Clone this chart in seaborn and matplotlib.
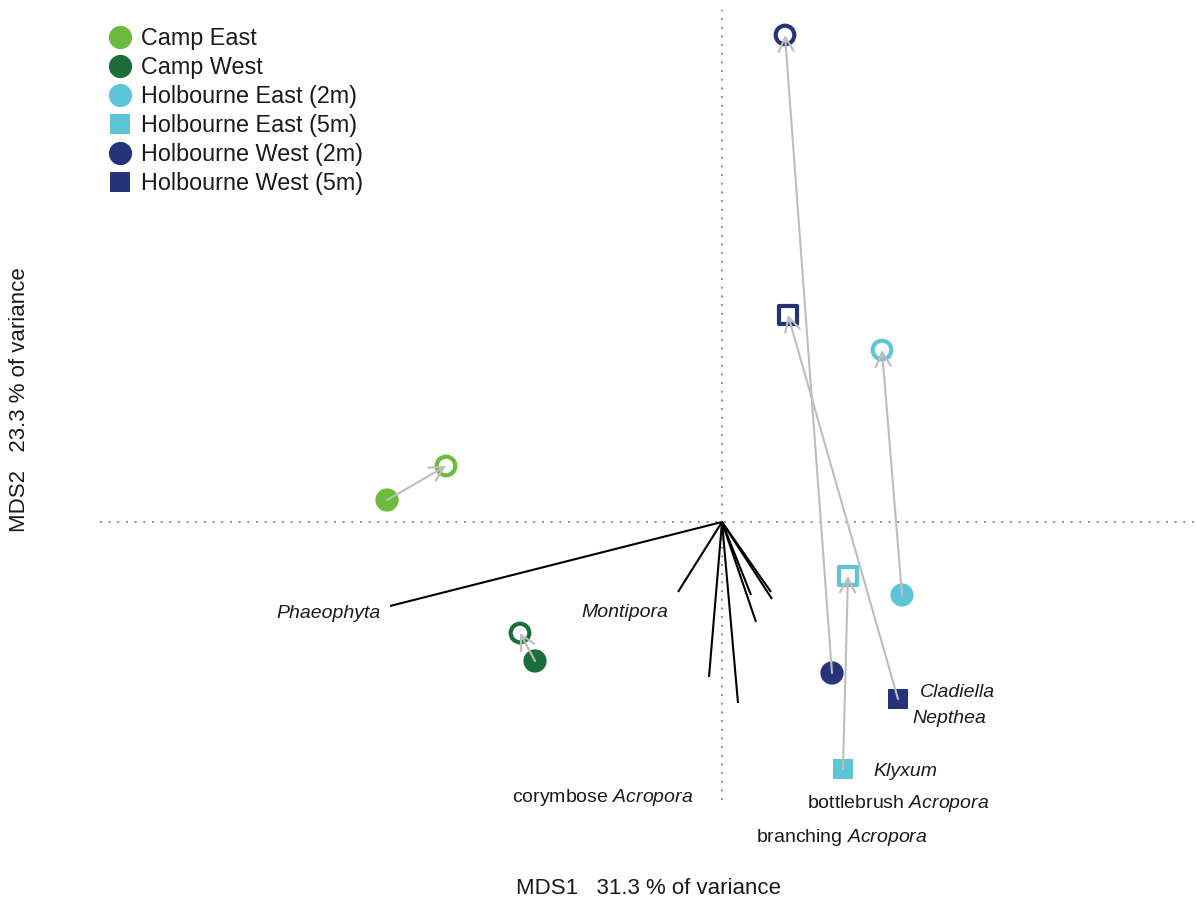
import matplotlib
matplotlib.use("Agg")
import matplotlib.pyplot as plt
import seaborn as sns
import pandas as pd

# ---------------- data ----------------
groups = ["Camp East", "Camp West", "Holbourne East (2m)", "Holbourne East (5m)",
          "Holbourne West (2m)", "Holbourne West (5m)"]
start_x = [-3.35, -1.87, 1.80, 1.21, 1.10, 1.76]
start_y = [0.22, -1.39, -0.73, -2.47, -1.51, -1.77]
end_x = [-2.76, -2.02, 1.60, 1.26, 0.63, 0.66]
end_y = [0.56, -1.11, 1.72, -0.54, 4.87, 2.07]

vec_x = [-3.32, -0.44, -0.13, 0.16, 0.29, 0.34, 0.49, 0.50]
vec_y = [-0.84, -0.70, -1.55, -1.81, -0.73, -1.00, -0.70, -0.77]

label_text = ["Phaeophyta", "Montipora", r"corymbose $\mathit{Acropora}$",
              r"bottlebrush $\mathit{Acropora}$", r"branching $\mathit{Acropora}$",
              "Cladiella", "Nepthea", "Klyxum"]
label_x = [-3.41, -0.54, -1.195, 1.76, 1.195, 1.98, 1.90, 1.51]
label_y = [-0.91, -0.90, -2.75, -2.81, -3.15, -1.70, -1.96, -2.49]
label_ha = ["right", "right", "center", "center", "center", "left", "left", "left"]
label_italic = [True, True, False, False, False, True, True, True]

palette = {"Camp East": "#6cbb3c", "Camp West": "#1b6e38",
           "Holbourne East (2m)": "#5ec4d8", "Holbourne East (5m)": "#5ec4d8",
           "Holbourne West (2m)": "#253479", "Holbourne West (5m)": "#253479"}
markers = {"Camp East": "o", "Camp West": "o", "Holbourne East (2m)": "o",
           "Holbourne East (5m)": "s", "Holbourne West (2m)": "o",
           "Holbourne West (5m)": "s"}
fill_sizes = {"Camp East": 280, "Camp West": 280, "Holbourne East (2m)": 280,
              "Holbourne East (5m)": 190, "Holbourne West (2m)": 280,
              "Holbourne West (5m)": 190}
open_sizes = {"Camp East": 180, "Camp West": 180, "Holbourne East (2m)": 180,
              "Holbourne East (5m)": 150, "Holbourne West (2m)": 180,
              "Holbourne West (5m)": 150}

df_start = pd.DataFrame({"x": start_x, "y": start_y, "group": groups})
df_end = pd.DataFrame({"x": end_x, "y": end_y, "group": groups})

# ---------------- style ----------------
sns.set_style("white")
plt.rcParams["font.family"] = ["Liberation Sans", "DejaVu Sans"]
plt.rcParams["mathtext.fontset"] = "custom"
plt.rcParams["mathtext.rm"] = "Liberation Sans"
plt.rcParams["mathtext.it"] = "Liberation Sans:italic"

W, H = 1196, 902
fig = plt.figure(figsize=(W / 100, H / 100), dpi=100)
ax = fig.add_axes([100 / W, 1 - 800 / H, 1096 / W, 790 / H])
ax.set_xlim(-6.22, 4.74)
ax.set_ylim(-2.78, 5.12)

dot = (0, (1, 3.8))
ax.axhline(0, color="#808080", lw=1.3, ls=dot, zorder=1)
ax.axvline(0, color="#808080", lw=1.3, ls=dot, zorder=1)

# species vectors
for vx, vy in zip(vec_x, vec_y):
    ax.plot([0, vx], [0, vy], color="black", lw=1.5, solid_capstyle="butt", zorder=2)

# filled (start) points
sns.scatterplot(data=df_start, x="x", y="y", hue="group", style="group", size="group",
                palette=palette, markers=markers, sizes=fill_sizes, linewidth=0,
                hue_order=groups, style_order=groups, size_order=groups,
                ax=ax, zorder=3, legend="full")
handles, labels = ax.get_legend_handles_labels()

# open (end) points
sns.scatterplot(data=df_end, x="x", y="y", hue="group", style="group", size="group",
                palette=palette, markers=markers, sizes=open_sizes, linewidth=0,
                hue_order=groups, style_order=groups, size_order=groups,
                ax=ax, zorder=3, legend=False)
coll = ax.collections[-1]
fc = coll.get_facecolors()
coll.set_edgecolors(fc)
coll.set_facecolors("none")
coll.set_linewidths(3.0)

# arrows start -> end
for sx, sy, ex, ey in zip(start_x, start_y, end_x, end_y):
    ax.annotate("", xy=(ex, ey), xytext=(sx, sy),
                arrowprops=dict(arrowstyle="->,head_length=0.6,head_width=0.32",
                                color="#bdbdbd", lw=1.5, shrinkA=0, shrinkB=0,
                                mutation_scale=17),
                zorder=4)

# vector labels
for t, lx, ly, ha, it in zip(label_text, label_x, label_y, label_ha, label_italic):
    ax.text(lx, ly, t, ha=ha, va="center", fontsize=14,
            style="italic" if it else "normal", color="#1a1a1a")

# legend
leg = ax.legend(handles, labels, loc="upper left",
                bbox_to_anchor=(108 / W, 1 - 27 / H), bbox_transform=fig.transFigure,
                frameon=False, fontsize=16.8, handlelength=1.0, handletextpad=0.4,
                labelspacing=0.26, borderpad=0, borderaxespad=0)
for h, lab in zip(leg.legend_handles, labels):
    try:
        h.set_sizes([230 if markers.get(lab, "o") == "o" else 170])
    except Exception:
        pass
for txt in leg.get_texts():
    txt.set_color("#1a1a1a")

ax.set_xticks([])
ax.set_yticks([])
sns.despine(ax=ax, left=True, bottom=True)
ax.set_xlabel("MDS1   31.3 % of variance", fontsize=16, va="center", color="#1a1a1a")
ax.xaxis.set_label_coords(0.5, -88 / 790)
ax.set_ylabel("MDS2   23.3 % of variance", fontsize=16, va="center", color="#1a1a1a")
ax.yaxis.set_label_coords(-80 / 1096, 400 / 790)

fig.savefig("out.png", dpi=100)
